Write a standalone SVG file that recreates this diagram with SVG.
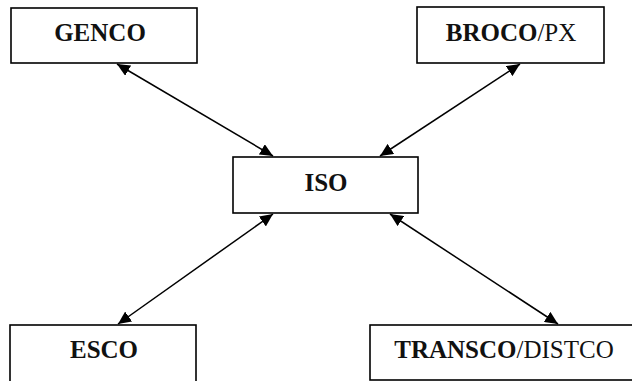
<svg xmlns="http://www.w3.org/2000/svg" width="632" height="381" viewBox="0 0 632 381">
<style>
.box{fill:#fff;stroke:#000;stroke-width:1.6}
.t{font-family:"Liberation Serif","Times New Roman",serif;font-size:25px;fill:#111;text-anchor:middle}
.b{font-weight:bold}
.edge{stroke:#000;stroke-width:1.5;fill:none;marker-start:url(#ah);marker-end:url(#ah)}
</style>
<defs>
<marker id="ah" viewBox="0 0 13 12" refX="13" refY="6" markerWidth="13" markerHeight="12" markerUnits="userSpaceOnUse" orient="auto-start-reverse">
<path d="M0,0 L13,6 L0,12 z" fill="#000"/>
</marker>
</defs>
<rect width="632" height="381" fill="#fff"/>
<g id="connectors">
<line class="edge" x1="117" y1="64" x2="273" y2="156"/>
<line class="edge" x1="520" y1="64" x2="380" y2="156"/>
<line class="edge" x1="273" y1="214" x2="118" y2="324"/>
<line class="edge" x1="390" y1="214" x2="558" y2="324"/>
</g>
<g id="genco">
<rect class="box" x="11" y="8" width="186" height="55"/>
<text class="t b" x="100" y="41">GENCO</text>
</g>
<g id="broco">
<rect class="box" x="417" y="7" width="187" height="56"/>
<text class="t" x="511" y="41"><tspan class="b">BROCO</tspan>/PX</text>
</g>
<g id="iso">
<rect class="box" x="233" y="157" width="185" height="56"/>
<text class="t b" x="326" y="191">ISO</text>
</g>
<g id="esco">
<rect class="box" x="10" y="325" width="186" height="60"/>
<text class="t b" x="104" y="358">ESCO</text>
</g>
<g id="transco">
<rect class="box" x="370" y="325" width="266" height="55"/>
<text class="t" x="504" y="358"><tspan class="b">TRANSCO</tspan>/DISTCO</text>
</g>
</svg>
